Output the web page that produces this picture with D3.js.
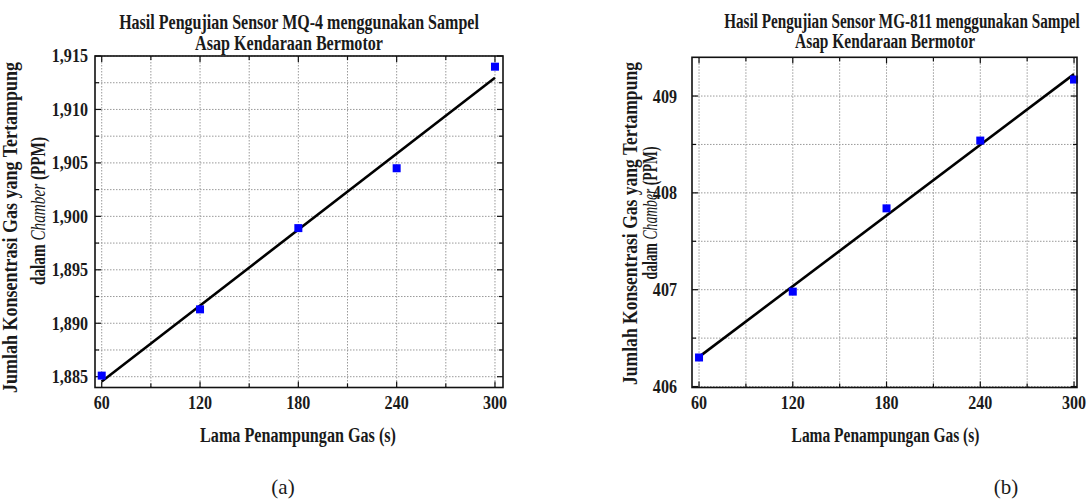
<!DOCTYPE html>
<html>
<head>
<meta charset="utf-8">
<script src="https://cdn.jsdelivr.net/npm/d3@7"></script>
<style>
  html, body { margin: 0; padding: 0; background: #fff; }
  svg { display: block; }
  svg text { font-family: "Liberation Serif", "Times New Roman", serif; fill: #1a1a1a; }
</style>
</head>
<body>
<svg id="chart" width="1088" height="503"></svg>
<script>
// sampling time (s)
const times = [60, 120, 180, 240, 300];
// measured concentration (PPM)
const mq4Ppm = [1885.1, 1891.3, 1898.9, 1904.5, 1914.0];
const mg811Ppm = [406.30, 406.98, 407.84, 408.54, 409.17];

const xTicks = [60, 120, 180, 240, 300];
const mq4Ticks = [1885, 1890, 1895, 1900, 1905, 1910, 1915];
const mg811Ticks = [406, 407, 408, 409];

const mq4Title = ["Hasil Pengujian Sensor MQ-4 menggunakan Sampel", "Asap Kendaraan Bermotor"];
const mg811Title = ["Hasil Pengujian Sensor MG-811 menggunakan Sampel", "Asap Kendaraan Bermotor"];
const xLabel = "Lama Penampungan Gas (s)";
const yLabel = ["Jumlah Konsentrasi Gas yang Tertampung", "dalam ", "Chamber", " (PPM)"];
const panelLabels = ["(a)", "(b)"];

const svg = d3.select("#chart");

// squeeze a text to a given width (the figure fonts are narrow)
function fit(sel, cx, cy, width, rot) {
  sel.attr("x", 0).attr("y", 0).attr("text-anchor", "middle");
  const w = sel.node().getComputedTextLength();
  sel.attr("transform", `translate(${cx},${cy}) rotate(${rot || 0}) scale(${width / w},1)`);
  return sel;
}

function linFit(xs, ys) {
  const mx = d3.mean(xs), my = d3.mean(ys);
  const b = d3.sum(xs, (x, i) => (x - mx) * (ys[i] - my)) / d3.sum(xs, x => (x - mx) ** 2);
  return x => my + b * (x - mx);
}

function panel(p) {
  const g = svg.append("g");
  const x = d3.scaleLinear().domain(p.xDomain).range([p.x0, p.x1]);
  const y = d3.scaleLinear().domain(p.yDomain).range([p.y1, p.y0]);
  const mid = t => d3.pairs(t).map(([a, b]) => (a + b) / 2);
  const xMinor = mid(p.xTicks), yMinor = mid(p.yTicks);

  // grid
  const grid = g.append("g").attr("stroke", "#9a9a9a").attr("stroke-width", 1)
    .attr("stroke-dasharray", "1.5,1.5");
  grid.selectAll(".vx").data(p.xTicks.concat(xMinor)).join("line")
    .attr("x1", d => x(d)).attr("x2", d => x(d)).attr("y1", p.y0).attr("y2", p.y1);
  grid.selectAll(".hy").data(p.yTicks.concat(yMinor)).join("line")
    .attr("y1", d => y(d)).attr("y2", d => y(d)).attr("x1", p.x0).attr("x2", p.x1);

  // inward ticks on all sides
  const ticks = g.append("g").attr("stroke", "#111").attr("stroke-width", 1.2);
  const tk = (vals, len) => {
    ticks.append("g").selectAll("line").data(vals).join("line")
      .attr("x1", d => x(d)).attr("x2", d => x(d)).attr("y1", p.y1).attr("y2", p.y1 - len);
    ticks.append("g").selectAll("line").data(vals).join("line")
      .attr("x1", d => x(d)).attr("x2", d => x(d)).attr("y1", p.y0).attr("y2", p.y0 + len);
  };
  const tky = (vals, len) => {
    ticks.append("g").selectAll("line").data(vals).join("line")
      .attr("y1", d => y(d)).attr("y2", d => y(d)).attr("x1", p.x0).attr("x2", p.x0 + len);
    ticks.append("g").selectAll("line").data(vals).join("line")
      .attr("y1", d => y(d)).attr("y2", d => y(d)).attr("x1", p.x1).attr("x2", p.x1 - len);
  };
  tk(p.xTicks, 6); tk(xMinor, 4); tky(p.yTicks, 6); tky(yMinor, 4);

  // fit line
  const f = linFit(times, p.values);
  g.append("line")
    .attr("x1", x(times[0])).attr("y1", y(f(times[0])))
    .attr("x2", x(times[times.length - 1])).attr("y2", y(f(times[times.length - 1])))
    .attr("stroke", "#000").attr("stroke-width", 2.6);

  // points
  g.append("g").selectAll("rect").data(times.map((t, i) => [t, p.values[i]])).join("rect")
    .attr("x", d => x(d[0]) - 4).attr("y", d => y(d[1]) - 4)
    .attr("width", 8).attr("height", 8).attr("fill", "#0000ff");

  // frame
  g.append("rect").attr("x", p.x0).attr("y", p.y0)
    .attr("width", p.x1 - p.x0).attr("height", p.y1 - p.y0)
    .attr("fill", "none").attr("stroke", "#111").attr("stroke-width", 1.6);

  // tick labels
  g.append("g").selectAll("text").data(p.xTicks).join("text")
    .attr("x", d => x(d)).attr("y", 409.5)
    .attr("text-anchor", "middle").attr("font-size", 18.5).attr("font-weight", "bold")
    .text(d => d)
    .each(function(d) { d3.select(this).attr("transform", `translate(${x(d)},0) scale(0.87,1) translate(${-x(d)},0)`); });
  g.append("g").selectAll("text").data(p.yTicks).join("text")
    .attr("x", p.labelX).attr("y", d => y(d) + 6.5)
    .attr("text-anchor", "end").attr("font-size", 18.5).attr("font-weight", "bold")
    .text(p.fmt)
    .attr("transform", `translate(${p.labelX},0) scale(0.87,1) translate(${-p.labelX},0)`);

  // titles
  fit(g.append("text").attr("font-size", 20).attr("font-weight", "bold").text(p.title[0]),
    p.t1[0], p.t1[1], p.t1[2]);
  fit(g.append("text").attr("font-size", 20).attr("font-weight", "bold").text(p.title[1]),
    p.t2[0], p.t2[1], p.t2[2]);
  fit(g.append("text").attr("font-size", 20).attr("font-weight", "bold").text(xLabel),
    p.xl[0], 442, p.xl[1]);

  // y label, two lines
  fit(g.append("text").attr("font-size", 20).attr("font-weight", "bold").text(yLabel[0]),
    p.y1l[0], p.y1l[1], p.y1l[2], -90);
  const l2 = g.append("text").attr("font-size", 20).attr("font-weight", "bold");
  l2.append("tspan").text(yLabel[1]);
  l2.append("tspan").attr("font-style", "italic").attr("font-weight", "normal").text(yLabel[2]);
  l2.append("tspan").text(yLabel[3]);
  fit(l2, p.y2l[0], p.y2l[1], p.y2l[2], -90);

  // panel label
  svg.append("text").attr("x", p.pl).attr("y", 494).attr("text-anchor", "middle")
    .attr("font-size", 21).text(p.panelLabel);
}

panel({
  values: mq4Ppm, xTicks: xTicks, yTicks: mq4Ticks,
  xDomain: [55.9, 304.9], yDomain: [1883.99, 1915],
  x0: 95, x1: 503, y0: 56, y1: 387.5,
  fmt: d3.format(","), labelX: 88,
  title: mq4Title, t1: [299, 29, 360], t2: [289, 50, 188],
  xl: [298, 196],
  y1l: [17, 227.5, 331], y2l: [45, 211, 148],
  pl: 283, panelLabel: panelLabels[0]
});

panel({
  values: mg811Ppm, xTicks: xTicks, yTicks: mg811Ticks,
  xDomain: [55.5, 301.9], yDomain: [405.99, 409.4],
  x0: 692, x1: 1077, y0: 57.3, y1: 387.5,
  fmt: d3.format("d"), labelX: 677,
  title: mg811Title, t1: [902, 28, 356], t2: [885, 48, 180],
  xl: [885.5, 188],
  y1l: [637, 223.5, 323], y2l: [657, 213, 133],
  pl: 1006, panelLabel: panelLabels[1]
});
</script>
</body>
</html>
